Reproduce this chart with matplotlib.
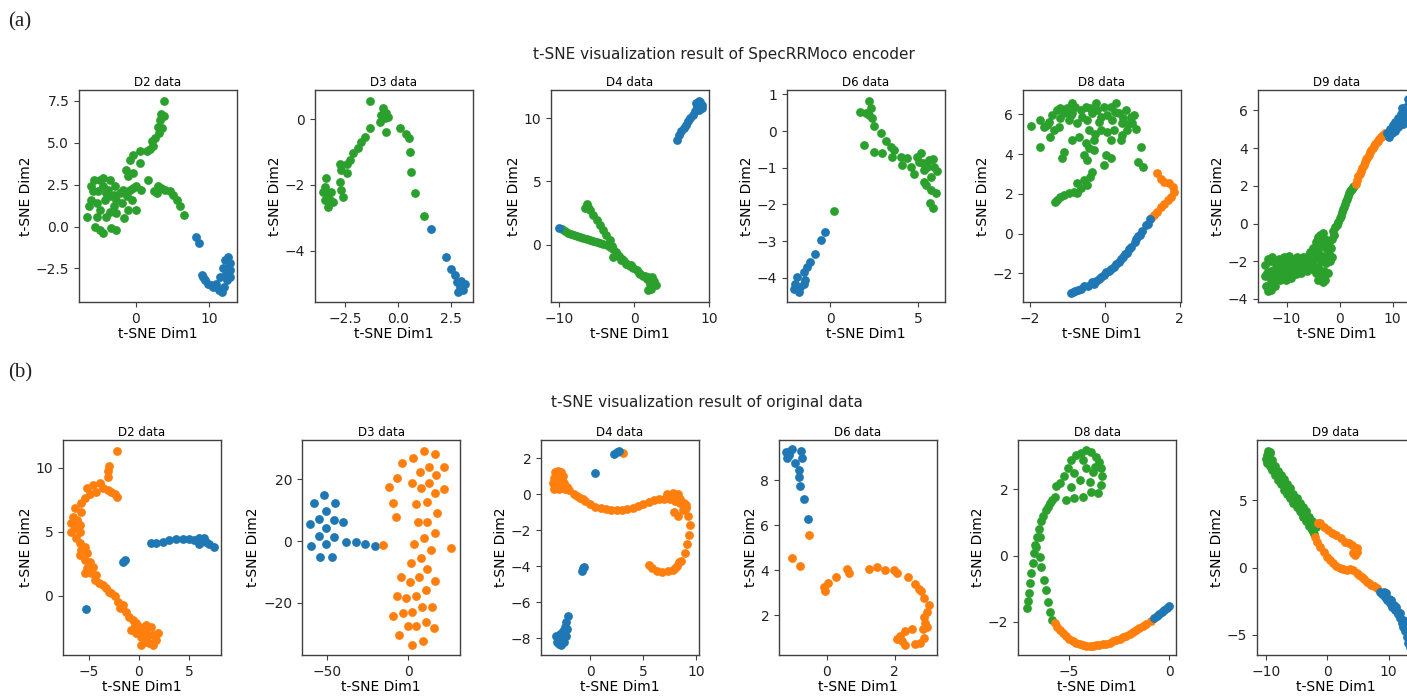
"""t-SNE scatter grid: SpecRRMoco encoder features (a) vs. original data (b)."""

import matplotlib

matplotlib.use("Agg")
import matplotlib.pyplot as plt
import numpy as np

plt.rcParams.update({
    "font.family": "DejaVu Sans",
    "axes.edgecolor": "#404040",
    "xtick.color": "#404040",
    "ytick.color": "#404040",
    "xtick.labelcolor": "#222222",
    "ytick.labelcolor": "#222222",
})

BLUE, ORANGE, GREEN = "#1f77b4", "#ff7f0e", "#2ca02c"

DATASETS = ["D2", "D3", "D4", "D6", "D8", "D9"]

# ---------------- (a) SpecRRMoco encoder ----------------
A_D2_GREEN = [(3.8, 7.5), (3.5, 6.7), (3.9, 6.6), (3.3, 6.35), (3.6, 5.9), (3.0, 5.95), (3.2, 5.6),
              (2.6, 5.3), (2.2, 5.1), (2.4, 4.8), (2.0, 4.6), (1.5, 4.5), (0.6, 4.5), (-0.3, 4.3),
              (-0.8, 4.0), (0.6, 3.8), (-1.3, 3.4), (-0.3, 3.2), (-1.0, 3.0), (-6.6, 0.6), (-6.1, 2.4),
              (-5.6, 2.8), (-4.9, 2.8), (-4.4, 2.9), (-3.5, 2.8), (-6.0, 1.6), (-5.3, 1.4), (-4.9, 1.0),
              (-4.2, 1.6), (-4.0, 2.0), (-3.5, 1.8), (-3.0, 1.9), (-2.8, 2.4), (-3.0, 1.2), (-2.6, 0.8),
              (-1.6, 0.5), (-2.1, 2.0), (-1.7, 2.2), (-1.2, 1.8), (-0.5, 1.6), (-0.8, 2.2), (-0.3, 2.3),
              (0.1, 2.4), (0.8, 2.2), (-1.0, 1.0), (0.05, 1.0), (-5.5, 0.0), (-4.9, -0.2), (-4.5, -0.4),
              (-3.3, -0.1), (-2.7, -0.2), (-6.3, 1.2), (-5.8, 2.1), (-5.1, 2.1), (-4.4, 2.4), (-3.7, 2.2),
              (-2.6, 1.6), (-1.9, 1.4), (-5.3, 0.6), (-4.0, 0.6), (-3.5, 0.9), (1.7, 2.8), (2.5, 2.1),
              (3.1, 2.4), (3.5, 2.3), (4.0, 2.2), (4.7, 2.1), (5.1, 1.9), (5.6, 1.6), (6.0, 1.2),
              (6.6, 0.7), (2.9, 2.0)]
A_D2_BLUE = [(8.2, -0.65), (8.6, -1.0), (9.0, -2.9), (9.4, -3.2), (9.9, -3.4), (10.6, -3.6), (11.3, -3.8),
             (11.7, -3.9), (12.0, -3.6), (12.4, -3.2), (12.9, -3.0), (12.6, -2.5), (12.9, -2.2), (12.6, -1.8),
             (12.2, -2.0), (11.9, -2.5), (11.5, -3.0), (11.0, -3.4), (12.9, -2.6), (12.3, -2.8), (9.2, -3.0),
             (10.3, -3.5)]

A_D3_GREEN = [(-1.33, 0.56), (-0.7, 0.32), (-0.55, 0.17), (-0.78, 0.12), (-0.62, 0.02), (-0.47, 0.07),
              (-0.86, -0.08), (-0.55, -0.38), (-1.33, -0.28), (0.08, -0.26), (0.39, -0.44), (0.52, -0.59),
              (0.55, -0.99), (0.59, -1.6), (0.78, -2.24), (1.22, -2.95), (-1.56, -0.54), (-1.72, -0.69),
              (-1.88, -0.89), (-2.1, -1.04), (-2.27, -1.25), (-2.42, -1.35), (-2.73, -1.35), (-2.66, -1.55),
              (-2.42, -1.65), (-2.73, -1.9), (-2.66, -2.16), (-2.58, -2.36), (-3.36, -1.8), (-3.44, -2.06),
              (-3.52, -2.2), (-3.28, -2.26), (-3.2, -2.46), (-3.44, -2.46), (-3.28, -2.66), (-3.05, -2.51),
              (-3.13, -2.2)]
A_D3_BLUE = [(1.56, -3.35), (2.23, -4.2), (2.5, -4.54), (2.66, -4.74), (2.77, -4.94), (2.89, -5.1),
             (3.13, -4.99), (2.81, -5.25), (3.05, -5.2), (2.97, -4.9)]

A_D4_GREEN = [(-9.6, 1.2), (-9.2, 1.05), (-8.8, 0.95), (-8.4, 0.85), (-8.0, 0.75), (-7.6, 0.65), (-7.2, 0.58),
              (-6.8, 0.52), (-6.35, 0.48), (-5.9, 0.38), (-5.5, 0.3), (-5.0, 0.22), (-4.5, 0.14), (-4.1, 0.08),
              (-3.6, -0.05), (-3.2, -0.2), (-2.77, -0.32), (-2.4, -0.6), (-2.0, -0.9), (-1.6, -1.15),
              (-1.3, -1.3), (-0.98, -1.5), (-0.6, -1.7), (-0.2, -1.88), (0.36, -2.04), (0.8, -2.3),
              (1.2, -2.5), (1.7, -2.7), (2.15, -3.1), (1.9, -2.57), (2.6, -3.23), (1.9, -3.62), (2.4, -2.6),
              (2.7, -2.9), (2.2, -3.5), (2.9, -3.2), (-6.35, 3.25), (-6.6, 2.86), (-6.2, 3.0), (-5.9, 2.72),
              (-5.5, 2.35), (-5.0, 1.93), (-4.6, 1.55), (-4.1, 1.14), (-3.7, 0.75), (-3.2, 0.34),
              (-2.9, -0.1), (-2.33, -0.71), (-2.77, -0.98), (-1.8, -1.2), (-0.4, -1.65), (0.6, -2.25),
              (1.4, -2.45), (-1.1, -1.5)]
A_D4_BLUE = [(-10.0, 1.32), (5.73, 8.28), (6.0, 8.7), (6.3, 9.0), (6.6, 9.2), (6.9, 9.5), (7.2, 9.8),
             (7.5, 10.0), (7.8, 10.3), (8.1, 10.6), (8.4, 10.9), (8.86, 11.3), (8.2, 11.2), (9.0, 10.8),
             (8.6, 10.66), (8.6, 11.4), (9.0, 11.1), (8.4, 11.1)]

A_D6_GREEN = [(2.19, 0.83), (1.68, 0.53), (2.0, 0.5), (2.19, 0.44), (2.29, 0.62), (2.39, 0.35), (2.48, 0.14),
              (1.91, -0.38), (2.48, -0.56), (2.96, -0.59), (2.86, -0.06), (3.15, -0.26), (3.44, -0.43),
              (3.63, -0.52), (3.53, -0.7), (4.0, -0.7), (4.1, -0.93), (4.39, -0.74), (4.58, -0.97),
              (4.96, -0.7), (5.15, -0.61), (5.25, -0.88), (5.06, -0.84), (5.34, -1.07), (5.63, -0.8),
              (5.82, -0.75), (5.92, -0.97), (6.07, -1.1), (5.73, -1.25), (5.34, -1.38), (5.44, -1.48),
              (5.73, -1.62), (6.01, -1.69), (5.69, -1.96), (5.82, -2.09), (0.19, -2.19), (5.53, -0.97),
              (4.77, -1.16)]
A_D6_BLUE = [(-0.29, -2.75), (-0.53, -2.96), (-0.86, -3.34), (-1.15, -3.57), (-1.34, -3.71), (-1.53, -3.85),
             (-1.43, -4.07), (-1.91, -3.98), (-2.0, -4.16), (-2.1, -4.3), (-1.81, -4.39), (-1.72, -4.25),
             (-1.53, -4.16)]

A_D8_GREEN = [(-1.97, 5.41), (-1.72, 5.71), (-1.72, 4.37), (-1.63, 5.38), (-1.49, 5.63), (-1.40, 5.97),
              (-1.27, 6.22), (-1.45, 4.87), (-1.36, 5.21), (-1.23, 5.38), (-1.18, 5.8), (-1.09, 6.05),
              (-1.0, 6.3), (-0.96, 5.71), (-0.87, 6.05), (-0.78, 6.39), (-0.73, 5.55), (-0.64, 6.22),
              (-0.6, 5.88), (-0.51, 6.39), (-0.47, 5.71), (-0.42, 5.21), (-0.33, 6.05), (-0.24, 6.55),
              (-0.2, 6.22), (-0.11, 5.88), (-0.02, 6.39), (0.07, 5.97), (0.16, 6.39), (0.21, 5.71),
              (0.25, 5.21), (0.38, 6.05), (0.47, 5.55), (0.56, 6.22), (0.61, 5.21), (0.74, 5.55),
              (0.79, 5.97), (0.83, 5.29), (0.47, 4.96), (0.43, 4.71), (0.16, 4.71), (-0.11, 5.21),
              (0.07, 5.13), (-0.29, 4.71), (-0.51, 4.54), (-0.42, 4.29), (-0.29, 4.2), (-0.55, 3.95),
              (-0.47, 3.7), (0.03, 3.95), (0.16, 3.78), (-0.02, 3.45), (-1.09, 4.12), (-1.14, 3.78),
              (-0.87, 4.71), (-0.69, 4.87), (0.97, 4.37), (0.88, 3.61), (1.02, 3.36), (-0.38, 2.86),
              (-0.33, 3.11), (-0.55, 2.69), (-0.47, 2.44), (-0.73, 2.52), (-0.64, 2.27), (-0.82, 2.1),
              (-0.96, 2.02), (-1.09, 1.93), (-1.18, 1.85), (-1.27, 1.68), (-1.32, 1.6), (-0.73, 2.02),
              (-1.18, 6.3), (-0.87, 6.55), (-0.38, 6.3), (0.3, 6.55), (0.5, 5.8), (0.7, 5.88), (-0.15, 5.63),
              (-1.55, 5.45), (-0.9, 5.95), (0.28, 6.1), (0.62, 5.5), (-0.25, 5.0)]
A_D8_ORANGE = [(1.4, 3.06), (1.5, 2.77), (1.59, 2.6), (1.73, 2.52), (1.82, 2.35), (1.86, 2.1), (1.77, 1.85),
               (1.68, 1.68), (1.59, 1.51), (1.5, 1.34), (1.41, 1.09), (1.32, 0.92), (1.25, 0.8)]
A_D8_BLUE = [(1.2, 0.72), (1.1, 0.45), (1.0, 0.15), (0.9, -0.15), (0.8, -0.42), (0.7, -0.7), (0.61, -1.0),
             (0.5, -1.2), (0.38, -1.45), (0.25, -1.68), (0.12, -1.9), (-0.02, -2.1), (-0.15, -2.3),
             (-0.29, -2.52), (-0.45, -2.64), (-0.64, -2.77), (-0.78, -2.88), (-0.91, -2.99), (-0.35, -2.45),
             (-0.55, -2.65), (0.05, -1.95), (0.95, -0.05), (0.55, -1.05), (1.15, 0.5), (0.85, -0.3),
             (0.65, -0.8), (0.45, -1.3), (0.3, -1.55), (0.18, -1.8), (-0.1, -2.2), (-0.22, -2.4),
             (-0.7, -2.85), (-0.85, -2.95)]

A_D9_GREEN = [(-14.0, -2.2), (-14.0, -2.8), (-13.8, -3.3), (-13.5, -3.6), (-13.5, -1.9), (-13.0, -2.5),
              (-13.0, -3.0), (-12.5, -2.0), (-12.5, -2.7), (-12.5, -3.2), (-12.0, -2.3), (-12.0, -2.9),
              (-11.5, -1.9), (-11.5, -2.5), (-11.0, -2.1), (-11.0, -2.8), (-10.5, -1.8), (-10.5, -2.4),
              (-10.0, -2.0), (-10.0, -2.7), (-9.5, -1.7), (-9.5, -2.3), (-9.0, -2.0), (-9.0, -2.6),
              (-8.5, -1.9), (-8.5, -2.4), (-8.0, -1.8), (-8.0, -2.3), (-7.5, -2.1), (-7.0, -1.8),
              (-7.0, -2.4), (-6.5, -2.0), (-6.0, -1.7), (-6.0, -2.3), (-5.5, -1.5), (-5.5, -2.1),
              (-5.0, -1.3), (-5.0, -2.0), (-4.5, -1.0), (-4.5, -1.8), (-4.5, -2.6), (-4.0, -0.7),
              (-4.0, -1.5), (-4.0, -2.3), (-4.0, -3.0), (-3.5, -1.2), (-3.5, -2.0), (-3.5, -2.8),
              (-3.0, -0.9), (-3.0, -1.7), (-3.0, -2.5), (-2.5, -1.3), (-2.5, -2.1), (-2.0, -1.0),
              (-2.0, -1.6), (-1.5, -0.8), (-1.2, -0.4), (-0.8, -0.2), (-0.3, 0.1), (0.0, 0.3), (0.4, 0.6),
              (0.8, 0.9), (1.2, 1.2), (1.6, 1.45), (2.0, 1.7), (2.4, 1.85), (2.8, 2.0), (-13.7, -2.6),
              (-12.8, -1.8), (-11.8, -2.6), (-10.8, -2.3), (-9.8, -2.1), (-8.8, -2.2), (-7.8, -2.0),
              (-6.8, -2.1), (-2.2, -2.6), (-1.8, -2.0), (-1.0, -0.6), (-0.5, -0.1), (0.2, 0.4), (0.6, 0.75),
              (1.0, 1.05), (1.4, 1.3), (1.8, 1.6), (2.2, 1.8), (2.6, 1.95), (-13.2, -2.0), (-12.2, -3.3),
              (-11.2, -3.0), (-10.2, -3.0), (-9.2, -2.9), (-8.2, -2.7), (-7.2, -2.6), (-6.2, -2.5),
              (-5.2, -2.4), (-4.2, -0.9), (-3.7, -0.6), (-3.2, -0.5), (-2.7, -0.8), (-1.7, -1.3),
              (-1.5, -1.8), (-2.8, -3.0), (-3.2, -3.1), (-13.0, -3.5)]
A_D9_ORANGE = [(3.0, 2.1), (3.5, 2.5), (4.0, 2.8), (4.5, 3.1), (5.0, 3.4), (5.5, 3.65), (6.0, 3.9),
               (6.5, 4.1), (7.0, 4.3), (7.5, 4.5), (8.0, 4.65), (8.5, 4.8), (3.25, 2.3), (3.75, 2.65),
               (4.25, 2.95), (4.75, 3.25), (5.25, 3.5), (5.75, 3.78), (6.25, 4.0), (6.75, 4.2), (7.25, 4.4),
               (7.75, 4.58), (8.25, 4.72)]
A_D9_BLUE = [(9.0, 4.8), (9.5, 5.0), (10.0, 5.2), (10.5, 5.4), (11.0, 5.6), (11.5, 5.8), (12.0, 6.0),
             (12.5, 6.2), (13.0, 6.4), (13.5, 6.5), (10.5, 4.9), (11.0, 5.1), (12.0, 5.3), (13.0, 5.4),
             (14.0, 5.5), (12.5, 5.6), (13.5, 5.9), (14.0, 6.3), (11.5, 5.3), (14.0, 5.1), (9.3, 4.6),
             (9.8, 4.8), (10.2, 5.0), (11.2, 5.4), (12.2, 5.7), (13.2, 6.0), (12.8, 6.6), (13.6, 6.8),
             (14.2, 6.6), (11.8, 6.1)]

# ---------------- (b) original data ----------------
B_D2_ORANGE = [(-2.19, 11.3), (-2.98, 10.13), (-3.08, 9.77), (-3.08, 9.25), (-3.91, 8.83), (-4.57, 8.65),
               (-5.17, 8.39), (-3.58, 8.39), (-3.08, 8.26), (-2.75, 8.13), (-2.42, 7.95), (-2.19, 7.74),
               (-4.24, 8.13), (-4.9, 7.95), (-5.4, 7.61), (-5.73, 7.22), (-6.39, 6.88), (-5.73, 6.57),
               (-6.56, 6.18), (-6.72, 5.66), (-6.39, 5.27), (-6.72, 5.01), (-5.89, 5.53), (-5.89, 5.01),
               (-6.23, 4.49), (-5.89, 4.1), (-5.73, 3.58), (-5.4, 3.84), (-5.89, 3.19), (-5.4, 2.8),
               (-5.17, 3.32), (-4.9, 2.68), (-5.17, 2.16), (-4.57, 2.29), (-5.4, 1.77), (-4.74, 1.77),
               (-4.24, 1.64), (-4.4, 1.25), (-3.58, 0.86), (-3.25, 0.6), (-2.75, 0.21), (-2.42, 0.0),
               (-2.09, -0.44), (-1.59, -0.7), (-1.92, -0.96), (-1.26, -1.22), (-0.93, -1.61), (-0.6, -1.87),
               (-0.26, -2.13), (0.07, -2.39), (0.4, -2.65), (0.73, -2.26), (1.23, -2.39), (-0.26, -2.91),
               (0.23, -3.17), (0.73, -2.91), (1.39, -3.04), (1.89, -2.91), (1.72, -3.43), (1.06, -3.69),
               (0.56, -3.56), (0.23, -3.82), (1.39, -3.82), (-0.43, -2.26), (-0.76, -2.65), (0.73, -3.3),
               (-4.0, 1.0), (-3.0, 0.3), (-6.2, 5.9)]
B_D2_BLUE = [(-5.3, -1.04), (-1.59, 2.68), (-1.42, 2.8), (1.23, 4.1), (1.72, 4.16), (2.38, 4.23),
             (3.05, 4.36), (3.71, 4.42), (4.37, 4.42), (5.03, 4.42), (5.53, 4.36), (5.96, 4.49), (6.19, 4.23),
             (6.69, 4.23), (7.02, 4.05), (7.52, 3.79), (6.52, 4.49), (6.0, 4.05)]

B_D3_BLUE = [(-51.6, 15.1), (-57.8, 12.2), (-44.9, 12.5), (-50.4, 9.7), (-60.6, 5.5), (-55.1, 7.0),
             (-45.9, 6.8), (-40.2, 6.3), (-50.4, 4.3), (-55.1, 1.6), (-45.3, 1.2), (-59.8, -1.5),
             (-50.4, -1.0), (-38.2, -0.2), (-32.0, -0.2), (-26.5, -1.0), (-20.4, -1.5), (-54.5, -5.3),
             (-46.9, -5.1)]
B_D3_ORANGE = [(-15.3, -1.2), (9.6, 29.2), (3.1, 27.1), (16.7, 28.4), (-3.5, 25.2), (12.7, 24.1),
               (22.0, 23.9), (7.6, 22.5), (-7.1, 20.5), (17.3, 21.4), (-11.6, 17.5), (2.7, 18.9),
               (12.7, 18.9), (7.8, 17.1), (22.4, 16.8), (16.7, 15.5), (-9.2, 12.5), (4.7, 12.0), (11.8, 12.8),
               (-7.6, 7.7), (18.0, 9.2), (6.1, 6.3), (11.8, 6.3), (16.3, 2.7), (9.6, 0.9), (3.7, -1.1),
               (26.5, -2.4), (13.9, -2.9), (7.8, -5.6), (1.6, -7.2), (11.8, -9.0), (-4.5, -11.8),
               (6.7, -11.8), (1.0, -13.2), (16.3, -13.0), (10.8, -15.9), (-7.1, -17.7), (-1.4, -18.4),
               (4.7, -17.7), (8.6, -21.4), (14.9, -21.4), (-9.2, -24.3), (-3.1, -23.5), (2.7, -22.9),
               (10.8, -26.2), (0.0, -27.6), (5.1, -27.5), (-5.5, -30.5), (15.9, -28.3), (2.4, -33.7),
               (9.2, -32.6)]

B_D4_ORANGE = [(-3.3, 1.2), (-3.0, 1.3), (-2.7, 1.2), (-3.4, 0.9), (-3.1, 0.9), (-2.7, 0.9), (-3.5, 0.6),
               (-3.2, 0.5), (-2.8, 0.5), (-2.5, 0.6), (-2.2, 0.4), (-3.4, 0.3), (-2.9, 0.3), (-2.4, 0.3),
               (-2.0, 0.2), (-2.6, 1.0), (-1.5, 0.0), (-1.0, -0.2), (-0.5, -0.4), (0.0, -0.55), (0.5, -0.7),
               (1.0, -0.8), (1.5, -0.85), (2.0, -0.9), (2.5, -0.9), (3.0, -0.88), (3.5, -0.82), (4.0, -0.75),
               (4.5, -0.65), (5.0, -0.55), (5.5, -0.45), (6.0, -0.35), (6.5, -0.3), (7.0, -0.28),
               (7.5, -0.3), (8.0, -0.4), (8.5, -0.5), (9.0, -0.6), (7.2, 0.0), (7.8, 0.05), (8.3, 0.0),
               (8.5, -0.3), (8.8, -0.5), (9.0, -0.8), (8.7, -0.9), (7.9, -1.0), (8.3, -1.2), (9.2, -1.2),
               (9.4, -1.7), (9.3, -2.3), (9.1, -2.8), (8.9, -3.3), (8.6, -3.7), (8.2, -4.0), (7.8, -4.2),
               (7.3, -4.3), (6.8, -4.35), (6.3, -4.3), (5.8, -4.1), (5.5, -3.95), (8.4, -3.8), (8.0, -4.1),
               (3.1, 2.3), (-1.2, -0.1), (-0.7, -0.3)]
B_D4_BLUE = [(2.2, 2.25), (2.5, 2.35), (2.7, 2.4), (0.5, 1.15), (-0.7, -4.1), (-0.8, -4.3), (-0.6, -4.05),
             (-2.1, -6.8), (-2.3, -7.1), (-2.4, -7.4), (-2.6, -7.6), (-2.8, -7.8), (-3.0, -8.0), (-3.1, -8.2),
             (-2.9, -8.35), (-2.7, -8.4), (-2.5, -8.2), (-2.3, -7.9), (-2.5, -7.7), (-3.2, -7.9),
             (-2.8, -8.1), (-2.2, -7.5)]

B_D6_BLUE = [(-1.18, 8.99), (-1.1, 9.28), (-1.02, 9.36), (-1.2, 9.24), (-1.12, 9.1), (-0.76, 9.28),
             (-0.73, 8.99), (-0.95, 8.74), (-0.83, 8.47), (-0.81, 8.15), (-0.78, 7.75), (-0.66, 7.15),
             (-0.55, 6.27)]
B_D6_ORANGE = [(-0.54, 5.58), (-1.02, 4.53), (-0.78, 4.17), (-0.1, 3.27), (-0.05, 3.1), (0.02, 3.45),
               (0.26, 3.69), (0.59, 4.07), (0.65, 3.9), (1.24, 4.05), (1.46, 4.14), (1.71, 4.02),
               (1.97, 4.02), (2.05, 3.87), (2.39, 3.69), (2.59, 3.39), (2.72, 3.15), (2.78, 3.1),
               (2.85, 2.76), (3.0, 2.45), (2.95, 2.16), (2.9, 1.67), (2.82, 1.38), (2.95, 1.5), (2.85, 1.0),
               (2.75, 0.76), (2.6, 0.73), (2.5, 1.38), (2.3, 1.32), (2.14, 1.08), (2.21, 0.87), (2.3, 0.68),
               (2.06, 0.94), (2.87, 1.93)]

B_D8_GREEN = [(-7.09, -1.59), (-6.99, -1.14), (-6.87, -0.53), (-6.74, 0.07), (-6.57, 0.57), (-6.37, 1.03),
              (-6.16, 1.38), (-5.96, 1.58), (-5.71, 1.78), (-5.63, 2.09), (-5.46, 2.19), (-5.22, 2.39),
              (-5.05, 2.63), (-4.89, 2.89), (-4.64, 3.04), (-4.39, 3.09), (-4.14, 3.19), (-3.89, 3.14),
              (-3.64, 2.98), (-3.48, 2.83), (-3.39, 2.63), (-3.34, 2.39), (-3.39, 2.13), (-3.56, 1.9),
              (-3.89, 1.93), (-4.3, 1.78), (-4.72, 1.73), (-5.13, 1.68), (-4.89, 2.08), (-4.47, 2.28),
              (-3.97, 2.23), (-3.81, 2.53), (-4.14, 2.63), (-4.72, 2.48), (-4.3, 2.89), (-3.72, 2.68),
              (-6.46, -0.03), (-6.37, -0.33), (-6.26, -0.73), (-6.16, -1.04), (-6.04, -1.39), (-5.93, -1.69),
              (-5.83, -1.94), (-6.62, 0.27), (-6.46, 0.57), (-7.04, -1.36), (-6.93, -0.83), (-6.8, -0.23),
              (-6.66, 0.32), (-6.47, 0.8), (-6.27, 1.2), (-6.06, 1.48), (-5.84, 1.68)]
B_D8_ORANGE = [(-5.71, -2.04), (-5.46, -2.24), (-5.13, -2.44), (-4.8, -2.59), (-4.47, -2.66), (-4.14, -2.72),
               (-3.81, -2.72), (-3.48, -2.69), (-3.15, -2.66), (-2.81, -2.59), (-2.48, -2.52), (-2.15, -2.42),
               (-1.82, -2.31), (-1.49, -2.19), (-1.16, -2.06), (-0.91, -1.96), (-5.6, -2.14), (-5.3, -2.35),
               (-4.97, -2.52), (-4.63, -2.63), (-4.3, -2.7), (-3.97, -2.72), (-3.64, -2.71), (-3.3, -2.68),
               (-2.97, -2.63), (-2.64, -2.56), (-2.3, -2.47), (-1.98, -2.37), (-1.65, -2.25), (-1.32, -2.12)]
B_D8_BLUE = [(-0.75, -1.89), (-0.62, -1.82), (-0.5, -1.76), (-0.37, -1.7), (-0.25, -1.64), (-0.12, -1.57),
             (0.0, -1.51)]

B_D9_GREEN = [(-9.8, 8.4), (-9.8, 7.8), (-9.4, 8.5), (-9.4, 7.6), (-9.0, 8.0), (-9.0, 7.3), (-8.5, 7.6),
              (-8.5, 6.9), (-8.0, 7.2), (-8.0, 6.5), (-7.5, 6.9), (-7.5, 6.2), (-7.0, 6.6), (-7.0, 5.8),
              (-6.5, 6.2), (-6.5, 5.5), (-6.0, 5.9), (-6.0, 5.2), (-5.5, 5.5), (-5.5, 4.8), (-5.0, 5.2),
              (-5.0, 4.5), (-4.5, 4.8), (-4.5, 4.2), (-4.0, 4.5), (-4.0, 3.8), (-3.5, 4.2), (-3.5, 3.5),
              (-3.0, 3.8), (-3.0, 3.1), (-2.5, 3.5), (-2.5, 2.8), (-2.0, 3.2), (-2.2, 2.5), (-9.7, 8.65),
              (-9.3, 8.6), (-9.9, 8.1), (-9.2, 7.9), (-8.7, 7.3), (-8.2, 6.9), (-7.7, 6.55), (-7.2, 6.2),
              (-6.7, 5.85), (-6.2, 5.55), (-5.7, 5.15), (-5.2, 4.85), (-4.7, 4.5), (-4.2, 4.15),
              (-3.7, 3.85), (-3.2, 3.45), (-2.7, 3.15), (-1.8, 3.0)]
B_D9_ORANGE = [(-1.5, 3.35), (-1.2, 3.3), (-0.5, 3.05), (0.16, 2.8), (0.8, 2.6), (1.5, 2.43), (2.2, 2.2),
               (2.9, 1.94), (3.5, 1.8), (4.0, 1.69), (4.5, 1.32), (4.25, 1.07), (4.8, 1.44), (4.6, 0.95),
               (4.9, 1.15), (-2.0, 2.3), (-1.6, 1.9), (-1.2, 1.56), (-0.6, 1.2), (-0.1, 0.82), (0.5, 0.55),
               (1.0, 0.32), (1.5, 0.12), (2.1, -0.05), (2.6, -0.1), (3.2, -0.17), (3.7, -0.12), (4.25, -0.17),
               (4.8, -0.42), (5.2, -0.55), (5.6, -0.67), (6.0, -0.85), (6.4, -1.04), (6.8, -1.15),
               (7.2, -1.29), (7.6, -1.4), (8.1, -1.54)]
B_D9_BLUE = [(8.6, -1.79), (9.0, -1.95), (9.4, -2.16), (9.8, -2.4), (10.2, -2.66), (10.6, -2.9), (11.1, -3.15),
             (11.5, -3.45), (11.9, -3.77), (12.2, -4.1), (12.4, -4.39), (12.7, -4.75), (13.0, -5.14),
             (13.2, -5.63), (13.5, -5.9), (9.2, -1.8), (10.0, -2.3), (10.8, -2.8), (11.6, -3.3),
             (12.3, -3.9), (12.9, -4.5), (13.4, -5.1), (9.6, -1.9), (10.4, -2.4), (11.2, -2.9),
             (11.9, -3.4), (12.6, -4.0), (13.2, -4.7), (13.7, -5.4), (13.9, -5.9)]

# axis limits
A_XLIM = [(-7.7, 13.8), (-3.9, 3.52), (-11.1, 9.98), (-2.48, 6.53), (-2.18, 2.04), (-15.4, 14.4)]
A_YLIM = [(-4.5, 8.15), (-5.55, 0.88), (-4.55, 12.25), (-4.66, 1.12), (-3.45, 7.23), (-4.16, 7.08)]
B_XLIM = [(-7.55, 8.18), (-65.3, 32.0), (-4.63, 10.25), (-1.41, 3.24), (-7.53, 0.33), (-11.44, 14.3)]
B_YLIM = [(-4.6, 12.16), (-37.0, 32.8), (-8.94, 3.0), (0.24, 9.78), (-3.0, 3.49), (-6.5, 9.5)]

A_XTICKS = [[0, 10], [-2.5, 0.0, 2.5], [-10, 0, 10], [0, 5], [-2, 0, 2], [-10, 0, 10]]
A_YTICKS = [[-2.5, 0.0, 2.5, 5.0, 7.5], [-4, -2, 0], [0, 5, 10], [-4, -3, -2, -1, 0, 1],
            [-2, 0, 2, 4, 6], [-4, -2, 0, 2, 4, 6]]
B_XTICKS = [[-5, 0, 5], [-50, 0], [0, 5, 10], [0, 2], [-5, 0], [-10, 0, 10]]
B_YTICKS = [[0, 5, 10], [-20, 0, 20], [-8, -6, -4, -2, 0, 2], [2, 4, 6, 8], [-2, 0, 2], [-5, 0, 5]]

A_SERIES = [
    [(A_D2_GREEN, GREEN), (A_D2_BLUE, BLUE)],
    [(A_D3_GREEN, GREEN), (A_D3_BLUE, BLUE)],
    [(A_D4_GREEN, GREEN), (A_D4_BLUE, BLUE)],
    [(A_D6_GREEN, GREEN), (A_D6_BLUE, BLUE)],
    [(A_D8_GREEN, GREEN), (A_D8_ORANGE, ORANGE), (A_D8_BLUE, BLUE)],
    [(A_D9_GREEN, GREEN), (A_D9_ORANGE, ORANGE), (A_D9_BLUE, BLUE)],
]
B_SERIES = [
    [(B_D2_ORANGE, ORANGE), (B_D2_BLUE, BLUE)],
    [(B_D3_BLUE, BLUE), (B_D3_ORANGE, ORANGE)],
    [(B_D4_ORANGE, ORANGE), (B_D4_BLUE, BLUE)],
    [(B_D6_BLUE, BLUE), (B_D6_ORANGE, ORANGE)],
    [(B_D8_GREEN, GREEN), (B_D8_ORANGE, ORANGE), (B_D8_BLUE, BLUE)],
    [(B_D9_GREEN, GREEN), (B_D9_ORANGE, ORANGE), (B_D9_BLUE, BLUE)],
]

W, H = 1407, 696
fig = plt.figure(figsize=(W / 100, H / 100), dpi=100)

# axes boxes in pixels; the last column runs past the right edge, as in the source
A_LEFT = [79, 315, 551, 787, 1023, 1258]
B_LEFT = [63, 302, 541, 779, 1018, 1257]
A_TOP, A_BOT = 90, 302
B_TOP, B_BOT = 440, 655
AX_W = 158


def panel(left, top, bot, series, xlim, ylim, xticks, yticks, name):
    ax = fig.add_axes([left / W, 1 - bot / H, AX_W / W, (bot - top) / H])
    for pts, color in series:
        arr = np.array(pts)
        ax.scatter(arr[:, 0], arr[:, 1], s=40, c=color, linewidths=0)
    ax.set_xlim(*xlim)
    ax.set_ylim(*ylim)
    ax.set_xticks(xticks)
    ax.set_yticks(yticks)
    ax.tick_params(labelsize=10, length=3.5, width=0.8)
    ax.set_xlabel("t-SNE Dim1", fontsize=10, labelpad=1)
    ax.set_ylabel("t-SNE Dim2", fontsize=10, labelpad=2)
    ax.set_title(f"{name} data", fontsize=8.5, pad=3)
    for sp in ax.spines.values():
        sp.set_linewidth(1.0)
    return ax


for i, name in enumerate(DATASETS):
    panel(A_LEFT[i], A_TOP, A_BOT, A_SERIES[i], A_XLIM[i], A_YLIM[i], A_XTICKS[i], A_YTICKS[i], name)
    panel(B_LEFT[i], B_TOP, B_BOT, B_SERIES[i], B_XLIM[i], B_YLIM[i], B_XTICKS[i], B_YTICKS[i], name)

fig.text(724 / W, 1 - 55 / H, "t-SNE visualization result of SpecRRMoco encoder",
         ha="center", va="center", fontsize=11, color="#222222")
fig.text(707 / W, 1 - 403 / H, "t-SNE visualization result of original data",
         ha="center", va="center", fontsize=11, color="#222222")
fig.text(8 / W, 1 - 22 / H, "(a)", ha="left", va="center", fontsize=15,
         family="Liberation Serif", color="#222222")
fig.text(8 / W, 1 - 373 / H, "(b)", ha="left", va="center", fontsize=15,
         family="Liberation Serif", color="#222222")

fig.savefig("out.png", dpi=100)
plt.close(fig)
